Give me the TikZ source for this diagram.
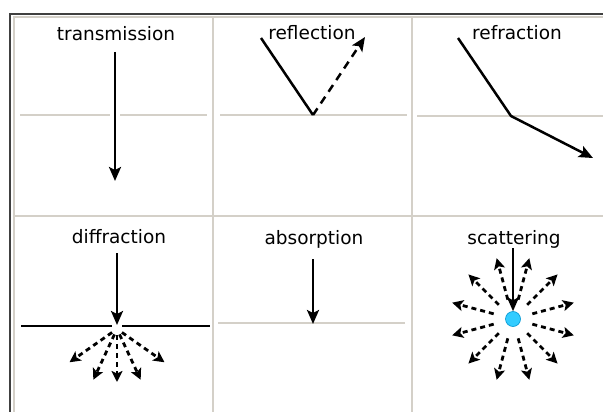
\documentclass[tikz,border=0pt]{standalone}
\usepackage{fontspec}
\setmainfont{DejaVu Sans}
\usetikzlibrary{arrows.meta}
\definecolor{dotblue}{RGB}{51,204,255}
\definecolor{dotedge}{RGB}{0,150,210}
\definecolor{panelgray}{RGB}{212,208,200}

\begin{document}
\begin{tikzpicture}[x=1pt, y=-1pt,
every node/.style={anchor=base, inner sep=0pt, font=\fontsize{18.5}{20}\selectfont},
ray/.style={line width=2.5pt, -{Stealth[length=14pt,width=12pt,inset=3pt]}},
raypart/.style={line width=2.5pt},
dashray/.style={line width=2.5pt, dash pattern=on 8pt off 6pt, -{Stealth[length=14pt,width=12pt,inset=3pt]}},
spray/.style={line width=2.8pt, dash pattern=on 5pt off 4pt, -{Stealth[length=11pt,width=11pt,inset=2.5pt]}},
cellline/.style={draw=panelgray, line width=1.8pt},
surface/.style={draw=panelgray, line width=1.4pt}
]
\useasboundingbox (0,0) rectangle (603,412);

% table
\draw[line width=1.4pt, black!75] (10,412) -- (10,14) -- (603,14);
\draw[cellline] (14,412) -- (14,17) -- (603,17);
\draw[cellline] (213,17) -- (213,412) (412,17) -- (412,412) (14,216) -- (603,216);

% labels
\node (trans) at (116,41) {transmission};
\node (refl)  at (312,40) {reflection};
\node (refr)  at (517,40) {refraction};
\node (diff)  at (119,243) {diffraction};
\node (abs)   at (314,244) {absorption};
\node (scat)  at (514,244) {scattering};

% transmission
\coordinate (t1) at (115,52);
\coordinate (t2) at (115,181);
\draw[surface] (20,115) -- (110,115) (120,115) -- (207,115);
\draw[ray] (t1) -- (t2);

% reflection
\coordinate (r1) at (261,38);
\coordinate (r2) at (313,115);
\coordinate (r3) at (365,37);
\draw[surface] (220,115) -- (407,115);
\draw[raypart] (r1) -- (r2);
\draw[dashray] (r2) -- (r3);

% refraction
\coordinate (f1) at (458,38);
\coordinate (f2) at (511,116);
\coordinate (f3) at (593,158);
\draw[surface] (417,116) -- (603,116);
\draw[ray, line join=round] (f1) -- (f2) -- (f3);

% diffraction
\coordinate (d1) at (117,253);
\coordinate (d2) at (117,325);
\coordinate (dc) at (117,329);
\draw[line width=2pt] (21,326) -- (112,326) (122,326) -- (210,326);
\draw[ray] (d1) -- (d2);
\foreach \a/\r in {145/58, 115/56, 90/53, 65/56, 35/58}
    \draw[spray] ([shift={(\a:6)}]dc) -- ([shift={(\a:\r)}]dc);

% absorption
\coordinate (a1) at (313,259);
\coordinate (a2) at (313,324);
\draw[surface] (218,323) -- (405,323);
\draw[ray] (a1) -- (a2);

% scattering
\node[draw=dotedge, fill=dotblue, circle, minimum size=15pt, line width=0.6pt, anchor=center] (dot) at (513,319) {};
\coordinate (s1) at (513,248);
\draw[ray] (s1) -- (dot.north);
\foreach \a in {15,45,...,345}
    \draw[spray] ([shift={(\a:20)}]dot.center) -- ([shift={(\a:63)}]dot.center);
\end{tikzpicture}
\end{document}
